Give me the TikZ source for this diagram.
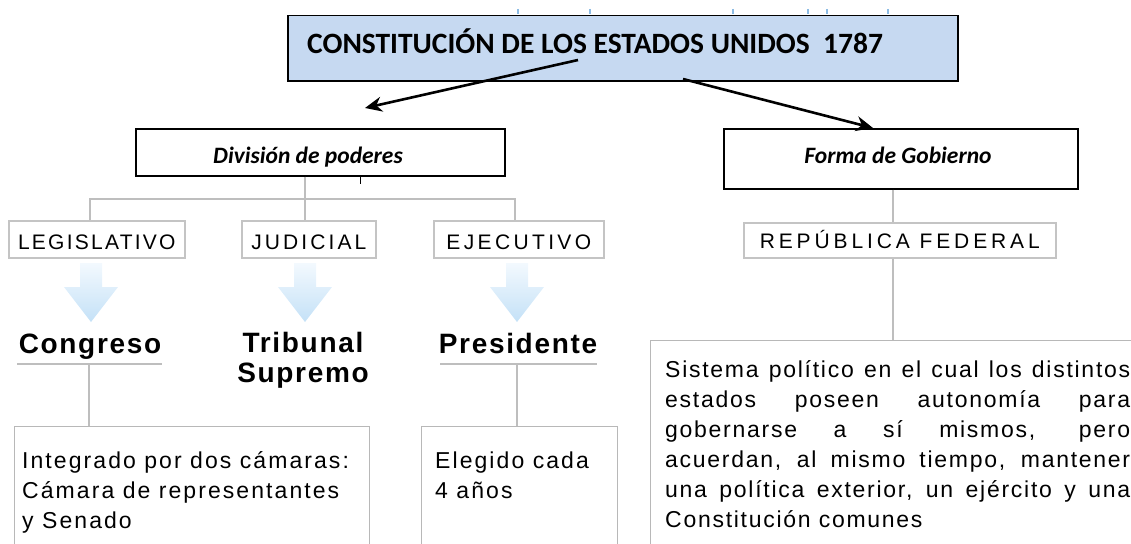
\documentclass[tikz,border=0pt]{standalone}
\usepackage{fontspec}
\setmainfont{Liberation Sans}
\newfontfamily\calfont{Carlito}
\usetikzlibrary{arrows.meta}
\definecolor{titleblue}{HTML}{C6D9F1}
\definecolor{labgray}{HTML}{C4C4C4}
\definecolor{linegray}{HTML}{BEBEBE}
\definecolor{boxgray}{HTML}{B8B8B8}
\definecolor{arrtop}{HTML}{F3F9FE}
\definecolor{arrbot}{HTML}{C4E1F7}
\definecolor{markblue}{HTML}{8DBCE4}
\tikzset{
  titlebox/.style={draw=black, line width=1.5pt, fill=titleblue, inner sep=0pt, anchor=north west},
  headbox/.style={draw=black, line width=1.6pt, fill=white, inner sep=0pt, anchor=north west},
  labbox/.style={draw=labgray, line width=1.6pt, fill=white, inner sep=0pt, anchor=north west,
    text depth=0pt, font=\fontsize{21}{22}\selectfont},
  bodybox/.style={draw=boxgray, line width=1.4pt, inner sep=0pt, anchor=north west, minimum height=160},
  conn/.style={draw=linegray, line width=2pt},
  bigarrow/.style={draw=black, line width=2.6pt, -{Stealth[length=17pt,width=15pt]}},
  caltext/.style={inner sep=0pt, anchor=base, font=\calfont\bfseries\itshape\fontsize{23.5}{26}\selectfont},
  heading/.style={inner sep=0pt, anchor=base, align=center,
    font=\fontsize{28}{30}\selectfont\bfseries\addfontfeature{LetterSpace=6}},
  bodytext/.style={inner sep=0pt, anchor=base west, align=left,
    font=\fontsize{23}{30}\selectfont\addfontfeature{LetterSpace=9}},
  bluearrow/.pic={\shade[top color=arrtop, bottom color=arrbot]
    (-11,0) -- (11,0) -- (11,24) -- (27,24) -- (0,59) -- (-27,24) -- (-11,24) -- cycle;}
}
\begin{document}
\begin{tikzpicture}[x=1pt,y=-1pt]
\useasboundingbox (0,0) rectangle (1131,543);
\clip (0,0) rectangle (1131,543);

% faint marks above the title
\foreach \mx in {518,590,733,808,827,888}
  \draw[markblue, line width=1.2pt] (\mx,9) -- (\mx,14);

% title
\node[titlebox, minimum width=670, minimum height=65] (title) at (287,15) {};
\node[inner sep=0pt, anchor=base west, font=\calfont\bfseries\fontsize{29.5}{30}\selectfont] (titletext) at (307,53) {CONSTITUCIÓN DE LOS ESTADOS UNIDOS~~1787};

% second level
\node[headbox, minimum width=369, minimum height=47] (div) at (135,128) {};
\node[caltext] (divtext) at (308,163) {División de poderes};
\node[headbox, minimum width=354, minimum height=60] (forma) at (723,128) {};
\node[caltext] (formatext) at (898,163) {Forma de Gobierno};

\coordinate (a1s) at (578,60);
\coordinate (a1e) at (365,108);
\coordinate (a2s) at (683,79);
\coordinate (a2e) at (873,128);
\draw[bigarrow] (a1s) -- (a1e);
\draw[bigarrow] (a2s) -- (a2e);

% small tick under division box
\draw[black, line width=1pt] (div.south -| 360,0) -- ++(0,7);

% labels
\node[labbox, minimum width=176, minimum height=37, text height=21pt] (leg) at (8,220) {\addfontfeature{LetterSpace=10.7}LEGISLATIVO};
\node[labbox, minimum width=134, minimum height=37, text height=21pt] (jud) at (241,220) {\addfontfeature{LetterSpace=14.8}JUDICIAL};
\node[labbox, minimum width=170, minimum height=37, text height=21pt] (eje) at (433,220) {\addfontfeature{LetterSpace=16}EJECUTIVO};
\node[labbox, minimum width=312, minimum height=35, text height=17pt] (rep) at (743,222) {\addfontfeature{LetterSpace=18.5}REPÚBLICA FEDERAL};

% tree
\coordinate (t0) at (305,199);
\coordinate (tl) at (90,199);
\coordinate (tr) at (515,199);
\draw[conn] (div.south -| t0) -- (t0);
\draw[conn] (tl |- leg.north) -- (tl) -- (tr) -- (tr |- eje.north);
\draw[conn] (t0) -- (t0 |- jud.north);
\coordinate (f0) at (893,0);
\draw[conn] (forma.south -| f0) -- (rep.north -| f0);

% blue arrows
\pic at (91,263) {bluearrow};
\pic at (305,263) {bluearrow};
\pic at (517,263) {bluearrow};

% headings
\node[heading] (cong) at (90,353) {Congreso};
\node[heading] (trib) at (303,382) {Tribunal\\Supremo};
\node[heading] (pres) at (518,353) {Presidente};
\coordinate (cu) at (89,364);
\coordinate (pu) at (517,364);
\draw[conn] (17,364) -- (162,364);
\draw[conn] (440,364) -- (597,364);

% bottom boxes
\node[bodybox, minimum width=355] (intbox) at (14,426) {};
\node[bodybox, minimum width=196] (elebox) at (421,426) {};
\node[bodybox, minimum width=520, minimum height=220] (sisbox) at (650,340) {};
\draw[conn] (cu) -- (intbox.north -| cu);
\draw[conn] (pu) -- (elebox.north -| pu);
\draw[conn] (rep.south -| f0) -- (sisbox.north -| f0);

\node[bodytext] (inttext) at (22,528) {Integrado por dos cámaras:\\Cámara de representantes\\y Senado};
\node[bodytext] (eletext) at (435,498) {Elegido cada\\4 años};
\node[bodytext, font=\fontsize{23}{30}\selectfont\addfontfeature{LetterSpace=7.5}] (sistext) at (665,527) {%
\makebox[465pt][s]{Sistema político en el cual los distintos}\\
\makebox[465pt][s]{estados poseen autonomía para}\\
\makebox[465pt][s]{gobernarse a sí mismos, pero}\\
\makebox[465pt][s]{acuerdan, al mismo tiempo, mantener}\\
\makebox[465pt][s]{una política exterior, un ejército y una}\\
Constitución comunes};
\end{tikzpicture}
\end{document}
